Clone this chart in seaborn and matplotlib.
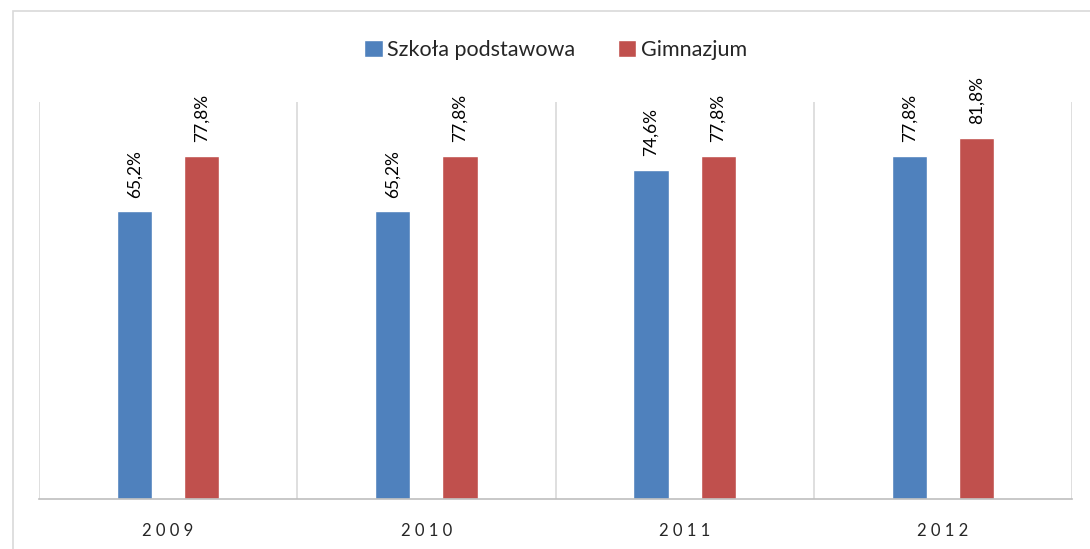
import pandas as pd
import seaborn as sns
import matplotlib.pyplot as plt
from matplotlib.patches import Rectangle

# Values
years = ['2009', '2010', '2011', '2012']
szkola_podstawowa = [65.2, 65.2, 74.6, 77.8]
gimnazjum = [77.8, 77.8, 77.8, 81.8]
series_names = ['Szkoła podstawowa', 'Gimnazjum']
colors = ['#4F81BD', '#C0504D']

df = pd.DataFrame({
    'rok': years * 2,
    'wartosc': szkola_podstawowa + gimnazjum,
    'szkola': [series_names[0]] * 4 + [series_names[1]] * 4,
})

sns.set_style('white')
plt.rcParams['font.family'] = ['Lato', 'DejaVu Sans']

fig = plt.figure(figsize=(10.9, 5.49), dpi=100)
ax = fig.add_axes([39 / 1090, 50 / 549, 1033 / 1090, 397 / 549])

sns.barplot(data=df, x='rok', y='wartosc', hue='szkola', palette=colors,
            width=0.52, gap=0.474, ax=ax, saturation=1)

# Data labels, rotated like the original
for cont in ax.containers:
    labels = [f'{v:.1f}%'.replace('.', ',') for v in cont.datavalues]
    ax.bar_label(cont, labels=labels, rotation=90, padding=10, fontsize=12.5, color='#000000')

ax.set_ylim(0, 90)
ax.set_xlim(-0.5, 3.5)
ax.set_yticks([])
ax.set_ylabel('')
ax.set_xlabel('')
ax.set_xticks(range(len(years)))
ax.set_xticklabels([' '.join(y) for y in years], fontsize=12)
ax.tick_params(axis='x', length=0, pad=17)

# Vertical category separators
for x in [-0.5, 0.5, 1.5, 2.5, 3.5]:
    ax.axvline(x, color='#d9d9d9', lw=1.2, zorder=0)

for s in ['top', 'right', 'left']:
    ax.spines[s].set_visible(False)
ax.spines['bottom'].set_color('#bfbfbf')
ax.spines['bottom'].set_linewidth(1.2)

leg = ax.legend(loc='upper center', bbox_to_anchor=(0.5, 1.205), ncol=2, frameon=False,
                fontsize=15.5, handlelength=0.85, handleheight=0.85, handletextpad=0.2,
                columnspacing=2.0)

# Outer chart frame
fig.add_artist(Rectangle((13 / 1090, -0.1), 1.2, 1.1 - 11 / 549, transform=fig.transFigure,
                         fill=False, ec='#d9d9d9', lw=1.2))

plt.savefig('out.png', dpi=100)
